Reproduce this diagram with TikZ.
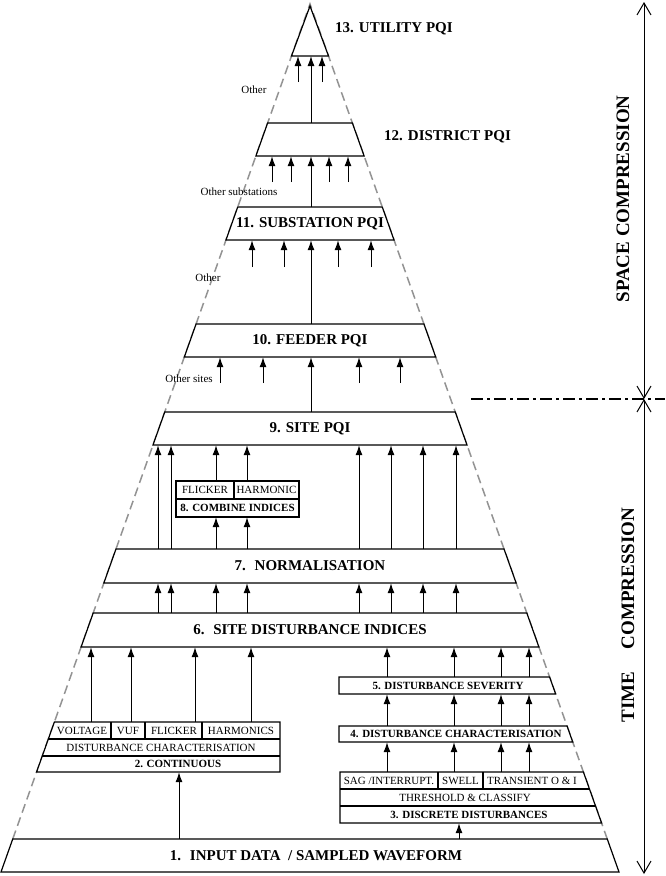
\documentclass[tikz,border=0pt]{standalone}
\usepackage{fontspec}
\setmainfont{Liberation Serif}
\usetikzlibrary{arrows.meta}

\newcommand{\lx}[1]{310-0.356*(#1-4)}
\newcommand{\rx}[1]{310+0.356*(#1-4)}
\newcommand{\tbox}[5][]{%
  \draw[box line] ({\lx{#3}},#3) -- ({\rx{#3}},#3) -- ({\rx{#4}},#4) -- ({\lx{#4}},#4) -- cycle;
  \node[main box,minimum height={(#4-#3)*1pt},#1] (#2) at (310,{(#3+#4)/2}) {#5};}

\begin{document}
\begin{tikzpicture}[x=1pt,y=-1pt,>={Latex[length=10pt,width=7pt]},
    box line/.style={draw,line width=1.2pt,fill=white},
    main box/.style={inner sep=0pt,font=\bfseries\fontsize{15}{18}\selectfont},
    cell/.style={inner sep=0pt,minimum height=17pt,font=\fontsize{11}{13}\selectfont},
    bold cell/.style={cell,font=\bfseries\fontsize{11}{13}\selectfont},
    note/.style={inner sep=0pt,font=\fontsize{11}{13}\selectfont},
    guide/.style={gray!85,line width=1.5pt,dash pattern=on 9pt off 5pt},
    link/.style={->,line width=1pt},
    comp/.style={{Straight Barb[length=12pt,width=14pt]}-{Straight Barb[length=12pt,width=14pt]},line width=1pt},
    comp label/.style={rotate=90,inner sep=0pt,font=\bfseries\fontsize{19}{22}\selectfont}]

    \useasboundingbox (0,0) rectangle (665,876);

    \draw[guide] ({\lx{839}},839) -- (310,4) -- ({\rx{839}},839);

    \draw[box line] (310,6) -- ({\rx{56}},56) -- ({\lx{56}},56) -- cycle;
    \coordinate (13b) at (310,56);

    \tbox{12}{123}{156}{}
    \tbox{11}{207}{240}{11. SUBSTATION PQI}
    \tbox{10}{324}{357}{10. FEEDER PQI}
    \tbox{9}{412}{445}{9. SITE PQI}
    \tbox{7}{549}{583}{7.~ NORMALISATION}
    \tbox{6}{613}{647}{6.~ SITE DISTURBANCE INDICES}
    \tbox[xshift=6pt]{1}{839}{872}{1.~ INPUT DATA~ / SAMPLED WAVEFORM}

    \draw[box line] (176,481) rectangle (299,517);
    \draw[line width=1.2pt] (176,499) -- (299,499) (234,481) -- (234,499);
    \node[cell,minimum height=18pt] (8f) at (205,490) {FLICKER};
    \node[cell,minimum height=18pt] (8h) at (266.5,490) {HARMONIC};
    \node[bold cell,minimum height=18pt] (8) at (237.5,508) {8. COMBINE INDICES};

    \draw[box line] ({\lx{722}},722) -- (280,722) -- (280,772) -- ({\lx{772}},772) -- cycle;
    \draw[line width=1.2pt] ({\lx{739}},739) -- (280,739) ({\lx{756}},756) -- (280,756);
    \foreach \x in {111,145,202} \draw[line width=1.2pt] (\x,722) -- (\x,739);
    \node[cell] (2v) at (82,730.5) {VOLTAGE};
    \node[cell] (2u) at (128,730.5) {VUF};
    \node[cell] (2f) at (174,730.5) {FLICKER};
    \node[cell] (2h) at (241,730.5) {HARMONICS};
    \node[cell] (2d) at (161,747.5) {DISTURBANCE CHARACTERISATION};
    \node[bold cell,minimum height=16pt] (2) at (178,764) {2. CONTINUOUS};

    \draw[box line] (340,772) -- ({\rx{772}},772) -- ({\rx{823}},823) -- (340,823) -- cycle;
    \draw[line width=1.2pt] (340,789) -- ({\rx{789}},789) (340,806) -- ({\rx{806}},806);
    \foreach \x in {438,483} \draw[line width=1.2pt] (\x,772) -- (\x,789);
    \node[cell] (3s) at (389,780.5) {SAG /INTERRUPT.};
    \node[cell] (3w) at (460.5,780.5) {SWELL};
    \node[cell] (3t) at (532,780.5) {TRANSIENT O \& I};
    \node[cell] (3c) at (465,797.5) {THRESHOLD \& CLASSIFY};
    \node[bold cell] (3) at (469,814.5) {3. DISCRETE DISTURBANCES};

    \draw[box line] (339,726) -- ({\rx{726}},726) -- ({\rx{742}},742) -- (339,742) -- cycle;
    \node[bold cell,minimum height=16pt] (4) at (456,734) {4. DISTURBANCE CHARACTERISATION};
    \draw[box line] (339,677) -- ({\rx{677}},677) -- ({\rx{694}},694) -- (339,694) -- cycle;
    \node[bold cell] (5) at (448,685.5) {5. DISTURBANCE SEVERITY};

    \draw[link] (179,0 |- 1.north) -- (179,0 |- 2.south);
    \draw[link] (459,0 |- 1.north) -- (459,0 |- 3.south);
    \foreach \x in {91,131,195,251} \draw[link] (\x,0 |- 2v.north) -- (\x,0 |- 6.south);
    \foreach \x in {387,454,501,529} {
        \draw[link] (\x,0 |- 3s.north) -- (\x,0 |- 4.south);
        \draw[link] (\x,0 |- 4.north) -- (\x,0 |- 5.south);
        \draw[link] (\x,0 |- 5.north) -- (\x,0 |- 6.south);
    }
    \foreach \x in {158,171,216,247,359,391,423,456} \draw[link] (\x,0 |- 6.north) -- (\x,0 |- 7.south);
    \foreach \x in {216,247} {
        \draw[link] (\x,0 |- 7.north) -- (\x,0 |- 8.south);
        \draw[link] (\x,0 |- 8f.north) -- (\x,0 |- 9.south);
    }
    \foreach \x in {158,171,359,391,423,456} \draw[link] (\x,0 |- 7.north) -- (\x,0 |- 9.south);

    \draw[link] (311,0 |- 9.north) -- (311,0 |- 10.south);
    \draw[link] (311,0 |- 10.north) -- (311,0 |- 11.south);
    \draw[link] (311,0 |- 11.north) -- (311,0 |- 12.south);
    \draw[link] (311,0 |- 12.north) -- (311,0 |- 13b);
    \foreach \x in {220,263,359,400} {
        \coordinate (f\x) at (\x,383);
        \draw[link] (f\x) -- (f\x |- 10.south);
    }
    \foreach \x in {252,284,338,371} {
        \coordinate (s\x) at (\x,267);
        \draw[link] (s\x) -- (s\x |- 11.south);
    }
    \foreach \x in {272,291,329,348} {
        \coordinate (d\x) at (\x,182);
        \draw[link] (d\x) -- (d\x |- 12.south);
    }
    \foreach \x in {298,322} {
        \coordinate (u\x) at (\x,82);
        \draw[link] (u\x) -- (u\x |- 13b);
    }

    \node[main box,anchor=west] (13) at (335,29) {13. UTILITY PQI};
    \node[main box,anchor=west] (12l) at (384,137) {12. DISTRICT PQI};
    \node[note] (o12) at (254,90) {Other};
    \node[note] (o11) at (239,192) {Other substations};
    \node[note] (o10) at (208,278) {Other};
    \node[note] (o9) at (189,379) {Other sites};

    \coordinate (top) at (644,2);
    \coordinate (mid) at (644,399);
    \coordinate (bot) at (644,874);
    \coordinate (cut) at (471,399);
    \coordinate (cutend) at (665,399);
    \draw[comp] (top) -- (mid);
    \draw[comp] (mid) -- (bot);
    \draw[line width=1.2pt,dash pattern=on 12pt off 4pt on 3pt off 4pt] (cut) -- (cutend);
    \node[comp label] (space) at (623,199) {SPACE COMPRESSION};
    \node[comp label] (time) at (628,615) {TIME\hspace{22pt}COMPRESSION};
\end{tikzpicture}
\end{document}
